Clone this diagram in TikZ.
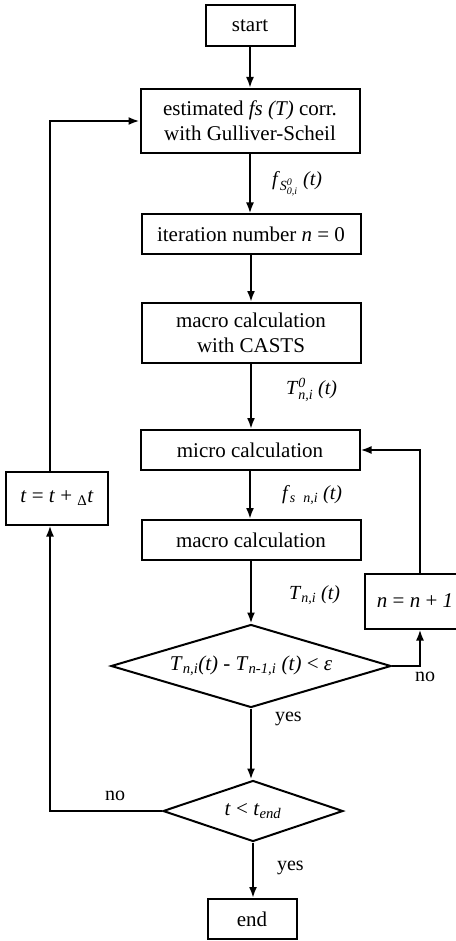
\documentclass[tikz,border=0pt]{standalone}
\usepackage{fontspec}
\usepackage{amsmath}
\setmainfont{Liberation Serif}
\usetikzlibrary{arrows.meta, shapes.geometric}

\begin{document}
\begin{tikzpicture}[
  x=1pt, y=-1pt,
  every node/.style={font=\fontsize{21}{25}\selectfont},
  procbox/.style={rectangle, draw, line width=2pt, minimum width=219pt, minimum height=40pt, align=center, inner sep=2pt},
  endbox/.style={rectangle, draw, line width=2pt, minimum width=89pt, minimum height=41pt},
  decbox/.style={diamond, draw, line width=2pt, inner sep=0pt, aspect=3.2},
  flow/.style={-{Latex[length=11pt,width=8pt]}, line width=2pt},
  lbl/.style={font=\fontsize{20}{24}\selectfont, inner sep=1pt},
]
\useasboundingbox (0,0) rectangle (455,941);

\node[endbox] (start) at (250,26) {start};
\node[procbox, minimum height=64pt] (est) at (250,121) {estimated \textit{fs (T)} corr.\\with Gulliver-Scheil};
\node[procbox, minimum height=39pt] (iter) at (251,234) {iteration number \textit{n} = 0};
\node[procbox, minimum height=60pt] (macroc) at (251,333) {macro calculation\\with CASTS};
\node[procbox] (micro) at (250,450) {micro calculation};
\node[procbox] (macro) at (251,540) {macro calculation};
\node[decbox, minimum width=280pt, minimum height=83pt] (cond) at (251,666) {\textit{T}$_{\textit{n,i}}$\textit{(t)} - \textit{T}$_{\textit{n-1,i}}$ \textit{(t)} < \textit{ε}};
\node[procbox, minimum width=100pt, minimum height=55pt] (incr) at (415,601) {\textit{n} = \textit{n} + \textit{1}};
\node[decbox, minimum width=180pt, minimum height=61pt] (tcond) at (253,811) {\textit{t} < \textit{t}$_{\textit{end}}$};
\node[procbox, minimum width=102pt, minimum height=53pt] (tstep) at (57,498) {\textit{t} = \textit{t} + $_{\textrm{Δ}}$\textit{t}};
\node[endbox, minimum height=40pt] (finish) at (252,919) {end};

% main column
\draw[flow] (start) -- (est);
\draw[flow] (est.south) -- node[lbl, right=20pt] {\textit{f}$_{\textit{S}^{\textit{0}}_{\textit{0,i}}}$ \textit{(t)}} (est.south |- iter.north);
\draw[flow] (iter.south) -- (iter.south |- macroc.north);
\draw[flow] (macroc.south) -- node[lbl, right=33pt, pos=0.4] {\textit{T}$^{\textit{0}}_{\textit{n,i}}$ \textit{(t)}} (macroc.south |- micro.north);
\draw[flow] (micro.south) -- node[lbl, right=30pt] {\textit{f}$_{\textit{s}\;\;\textit{n,i}}$ \textit{(t)}} (micro.south |- macro.north);
\draw[flow] (macro.south) -- node[lbl, right=36pt, pos=0.55] {\textit{T}$_{\textit{n,i}}$ \textit{(t)}} (macro.south |- cond.north);
\draw[flow] (cond.south) -- node[lbl, right=22pt, pos=0.15] {yes} (cond.south |- tcond.north);
\draw[flow] (tcond.south) -- node[lbl, right=22pt, pos=0.45] {yes} (tcond.south |- finish.north);

% inner loop
\draw[flow] (cond.east) -| node[lbl, pos=0.5, below=4pt, xshift=5pt] {no} ([xshift=5pt]incr.south);
\draw[flow] ([xshift=5pt]incr.north) |- (micro.east);

% time loop
\draw[flow] (tcond.west) -| node[lbl, pos=0.25, above=8pt, xshift=9pt] {no} ([xshift=-7pt]tstep.south);
\draw[flow] ([xshift=-7pt]tstep.north) |- (est.west);
\end{tikzpicture}
\end{document}
